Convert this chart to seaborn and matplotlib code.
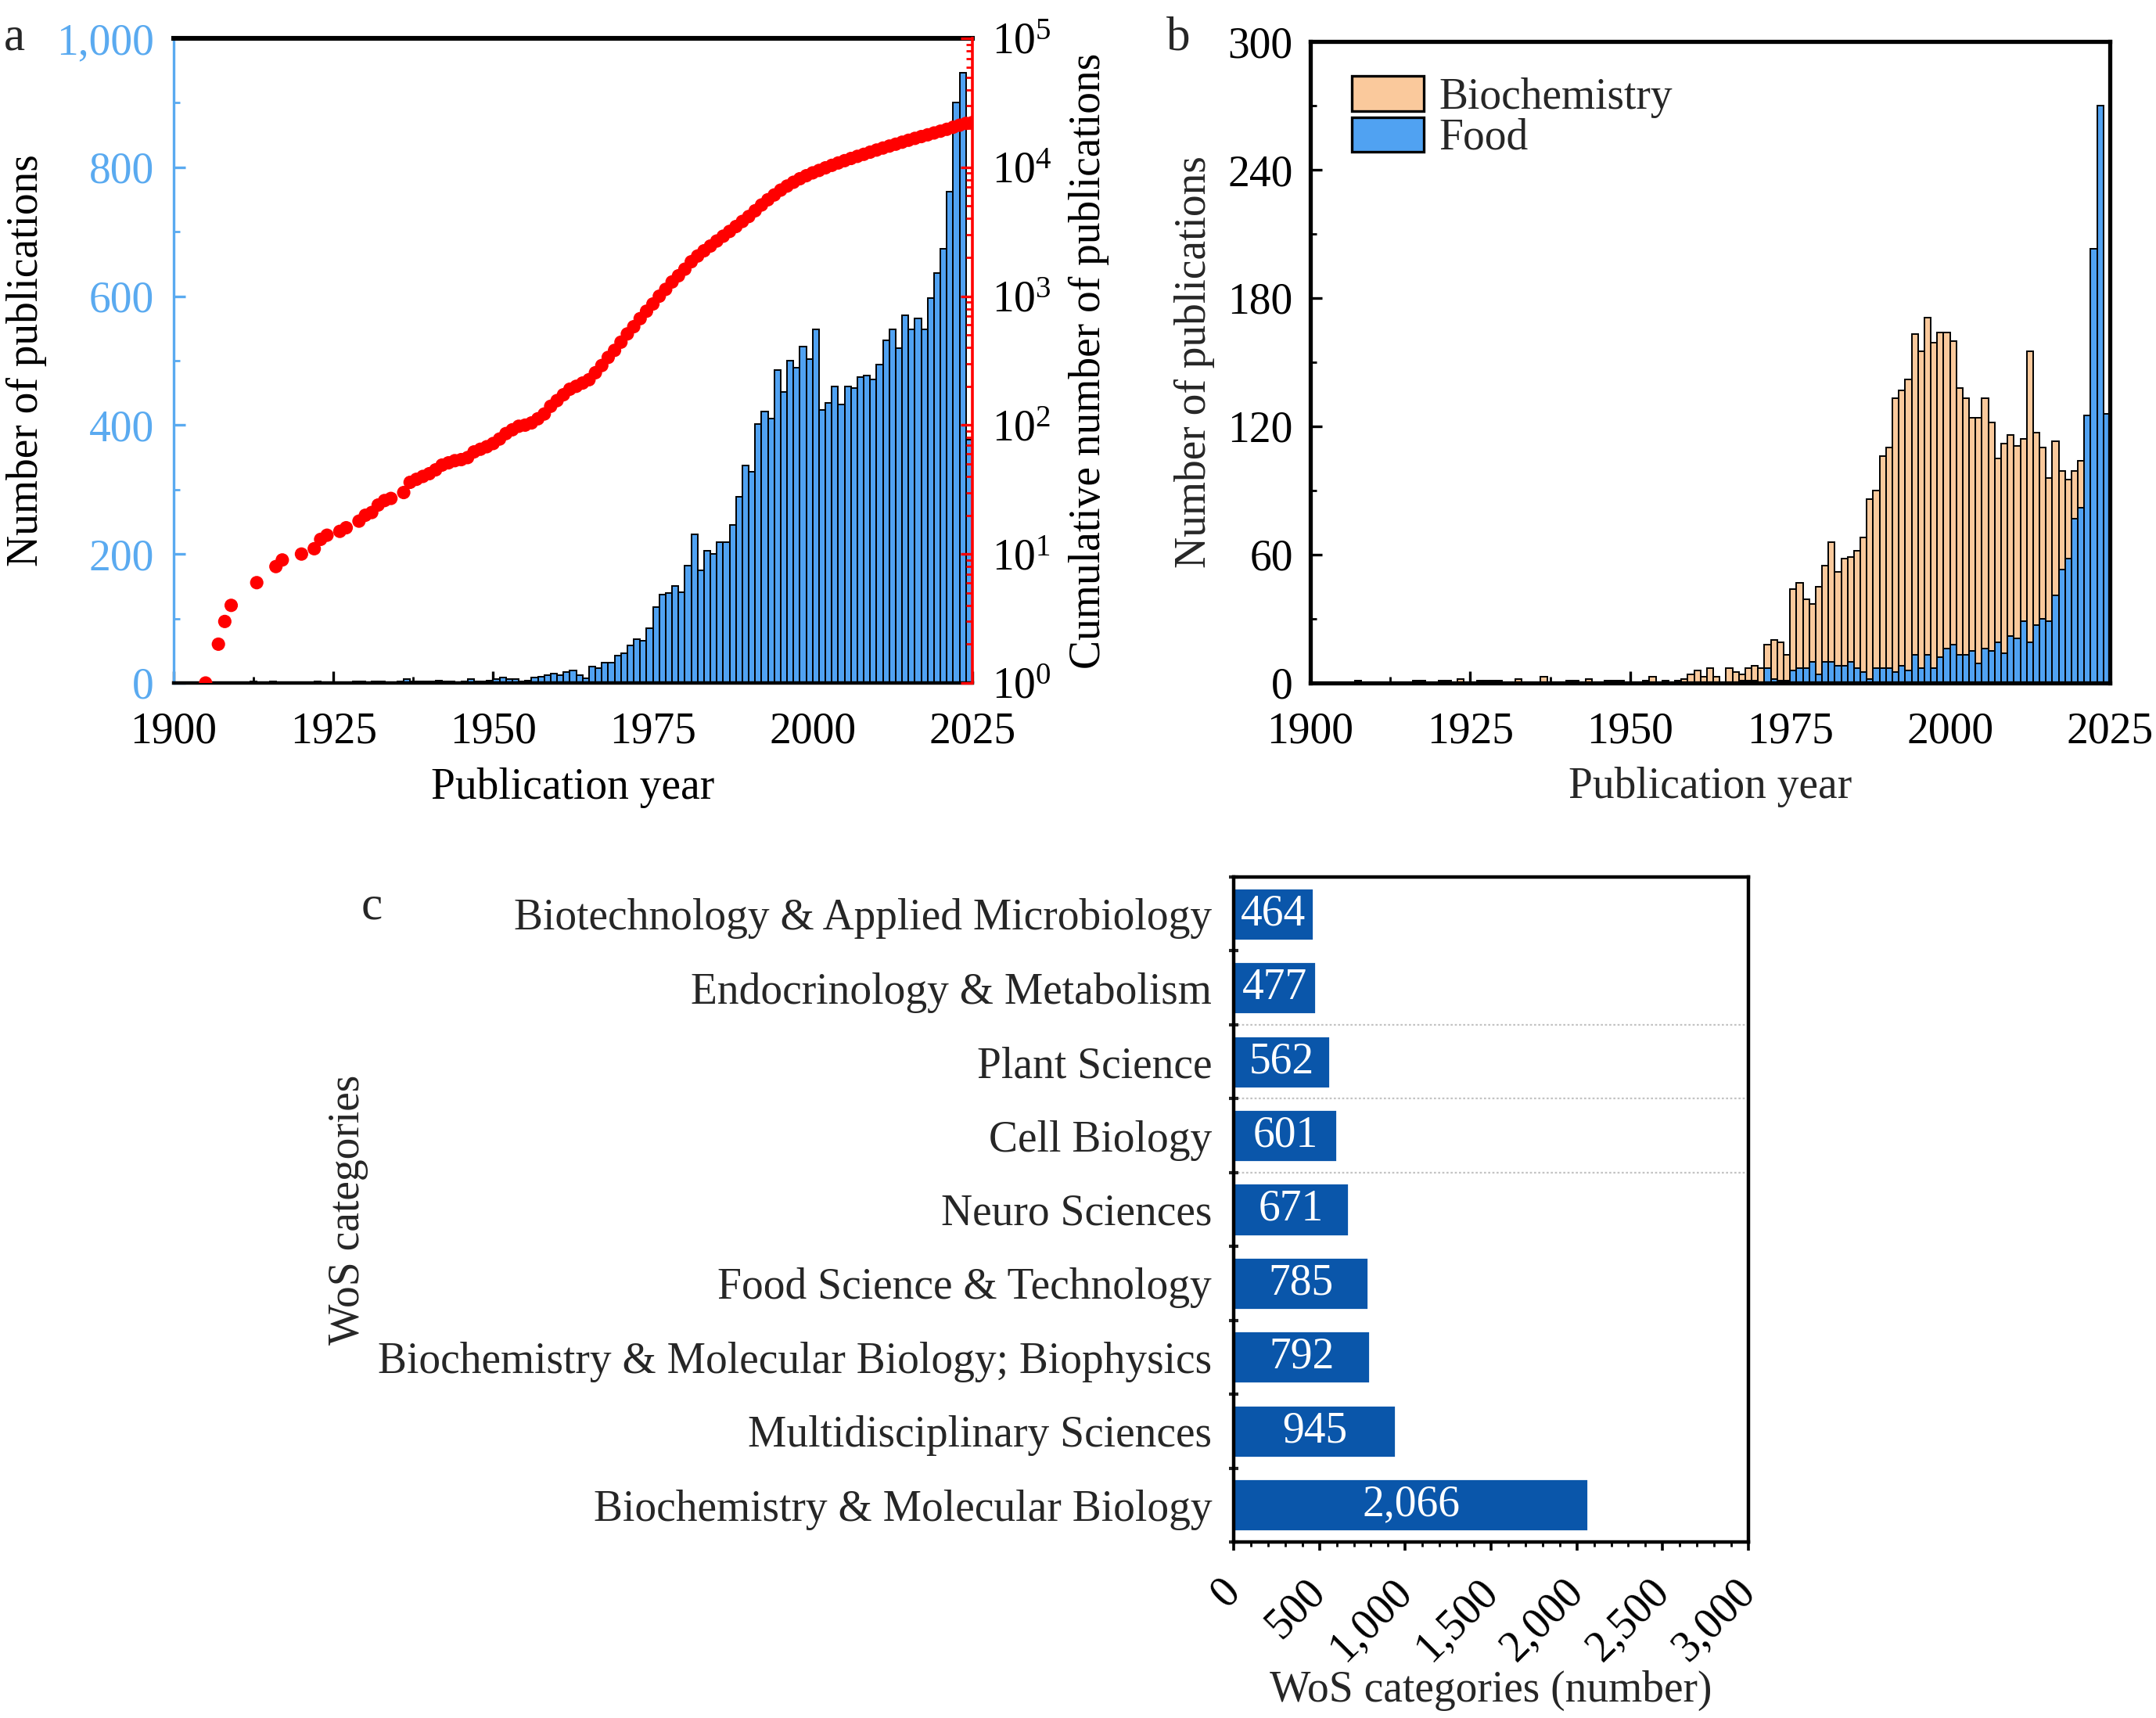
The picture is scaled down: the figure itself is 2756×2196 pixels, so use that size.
import numpy as np
import pandas as pd
import matplotlib
matplotlib.use("Agg")
import matplotlib.pyplot as plt
import seaborn as sns
from matplotlib.patches import Patch
from matplotlib.ticker import (MultipleLocator, FuncFormatter, LogLocator,
                               NullFormatter, FixedLocator)

# ---------------- data: panel a ----------------
years_a_early = [1905, 1907, 1908, 1909, 1913, 1916, 1917, 1920, 1922, 1923, 1924,
                 1926, 1927, 1929, 1930, 1931, 1932, 1933, 1934, 1936, 1937, 1938,
                 1939, 1940, 1941, 1942, 1943, 1944, 1945, 1946, 1947, 1948, 1949,
                 1950, 1951, 1952, 1953, 1954, 1955, 1956, 1957, 1958, 1959]
counts_a_early = [1, 1, 1, 1, 2, 2, 1, 1, 1, 2, 1,
                  1, 1, 2, 2, 1, 3, 2, 1, 3, 6, 2,
                  2, 2, 3, 4, 2, 2, 1, 2, 6, 3, 3,
                  4, 6, 8, 6, 6, 2, 4, 8, 10, 12]
years_a_recent = list(range(1960, 2026))
counts_a_recent = [14, 12, 17, 20, 12, 7, 25, 23, 32, 32,
                   42, 46, 58, 68, 66, 85, 118, 137, 139, 150,
                   141, 182, 230, 175, 205, 200, 219, 219, 245, 289,
                   337, 328, 402, 421, 410, 486, 452, 500, 489, 522,
                   503, 548, 424, 435, 460, 432, 460, 458, 475, 477,
                   471, 494, 531, 548, 520, 570, 549, 565, 549, 597,
                   636, 673, 762, 900, 947, 377]

cum_years = [1905, 1907, 1908, 1909, 1913, 1916, 1917, 1920, 1922, 1923, 1924,
             1926, 1927, 1929, 1930, 1931, 1932, 1933, 1934, 1936, 1937, 1938,
             1939, 1940, 1941, 1942, 1943, 1944, 1945, 1946, 1947, 1948, 1949,
             1950, 1951, 1952, 1953, 1954, 1955, 1956, 1957, 1958] + list(range(1959, 2026))
cum_values = [1, 2, 3, 4, 6, 8, 9, 10, 11, 13, 14,
              15, 16, 18, 20, 21, 24, 26, 27, 30, 36, 38,
              40, 42, 45, 49, 51, 53, 54, 56, 62, 65, 68,
              72, 78, 86, 92, 98, 100, 104, 112, 122,
              140, 155, 172, 190, 200, 212, 225, 255, 290, 335,
              380, 440, 510, 580, 670, 765, 870, 1000, 1130, 1290,
              1440, 1620, 1850, 2050, 2250, 2450, 2680, 2920, 3180, 3470,
              3800, 4150, 4600, 5100, 5600, 6100, 6650, 7150, 7650, 8150,
              8600, 9050, 9450, 9900, 10350, 10800, 11250, 11700, 12150, 12600,
              13100, 13600, 14100, 14600, 15100, 15650, 16200, 16750, 17300, 17850,
              18450, 19050, 19700, 20450, 21200, 21900, 22250]

# ---------------- data: panel b ----------------
years_b_early = [1908, 1917, 1918, 1921, 1922, 1924, 1927, 1928, 1929, 1930, 1933,
                 1937, 1941, 1942, 1944, 1947, 1948, 1949, 1953, 1954, 1956, 1958,
                 1959, 1960, 1961, 1962, 1963, 1964]
biochem_early = [1, 1, 1, 1, 1, 2, 1, 1, 1, 1, 2,
                 3, 1, 1, 2, 1, 1, 1, 1, 3, 1, 1,
                 2, 4, 6, 3, 7, 3]
years_b_recent = list(range(1966, 2026))
biochem_recent = [7, 5, 4, 7, 8, 7, 18, 20, 19, 13,
                  44, 47, 39, 37, 45, 55, 66, 52, 58, 59,
                  62, 68, 86, 90, 106, 110, 133, 137, 142, 163,
                  155, 171, 159, 164, 164, 160, 138, 133, 124, 124,
                  133, 122, 105, 112, 116, 111, 114, 155, 117, 110,
                  96, 113, 99, 95, 99, 104, 105, 100, 95, 45]
food_recent = [0, 0, 1, 1, 1, 0, 7, 2, 1, 1,
               6, 7, 7, 10, 4, 10, 10, 8, 8, 10,
               7, 5, 2, 7, 7, 7, 5, 8, 6, 13,
               7, 13, 7, 12, 16, 18, 13, 13, 15, 9,
               16, 15, 19, 14, 22, 21, 29, 19, 27, 30,
               29, 41, 53, 58, 77, 82, 125, 203, 270, 126]

# ---------------- data: panel c ----------------
wos_categories = ["Biotechnology & Applied Microbiology",
                  "Endocrinology & Metabolism",
                  "Plant Science",
                  "Cell Biology",
                  "Neuro Sciences",
                  "Food Science & Technology",
                  "Biochemistry & Molecular Biology; Biophysics",
                  "Multidisciplinary Sciences",
                  "Biochemistry & Molecular Biology"]
wos_counts = [464, 477, 562, 601, 671, 785, 792, 945, 2066]

# ---------------- style ----------------
sns.set_theme(style="white")
plt.rcParams["font.family"] = ["Liberation Serif", "DejaVu Serif"]
plt.rcParams["mathtext.fontset"] = "custom"
plt.rcParams["mathtext.rm"] = "Liberation Serif"
plt.rcParams["mathtext.it"] = "Liberation Serif:italic"
plt.rcParams["mathtext.bf"] = "Liberation Serif:bold"
plt.rcParams["font.size"] = 20
plt.rcParams["axes.labelsize"] = 20
plt.rcParams["xtick.labelsize"] = 20
plt.rcParams["ytick.labelsize"] = 20

BAR_BLUE = "#50A2F2"
AX_BLUE = "#5AAAF0"
PEACH = "#FAC99C"
RED = "#FF0000"
C_BLUE = "#0A56AA"
FS = 20

W, H, DPI = 2756, 2196, 200
fig = plt.figure(figsize=(W / DPI, H / DPI), dpi=DPI)


def rect(l, r, t, b):
    return [l / W, 1 - b / H, (r - l) / W, (b - t) / H]


thousands = FuncFormatter(lambda v, p: f"{int(round(v)):,}")

# ================= panel a =================
ax = fig.add_axes(rect(222, 1243, 49, 873))
df_a = pd.DataFrame({"pos": np.array(years_a_early + years_a_recent, dtype=float) - 0.5,
                     "n": np.array(counts_a_early + counts_a_recent, dtype=float)})
sns.histplot(data=df_a, x="pos", weights="n", binwidth=1, binrange=(1900, 2025),
             color=BAR_BLUE, edgecolor="black", linewidth=0.7, alpha=1, ax=ax)
ax.set_xlim(1900, 2025)
ax.set_ylim(0, 1000)
ax.xaxis.set_major_locator(MultipleLocator(25))
ax.xaxis.set_minor_locator(MultipleLocator(12.5))
ax.yaxis.set_major_locator(MultipleLocator(200))
ax.yaxis.set_minor_locator(MultipleLocator(100))
ax.yaxis.set_major_formatter(thousands)
ax.tick_params(axis="x", which="both", direction="in", colors="black",
               bottom=True, top=False, pad=13)
ax.tick_params(axis="x", which="major", length=5.5, width=1.2)
ax.tick_params(axis="x", which="minor", length=2.8, width=1.0)
ax.tick_params(axis="y", which="both", direction="in", colors=AX_BLUE,
               left=True, right=False, pad=9)
ax.tick_params(axis="y", which="major", length=5.5, width=1.2)
ax.tick_params(axis="y", which="minor", length=2.8, width=1.0)
for s in ["left", "right", "top", "bottom"]:
    ax.spines[s].set_visible(True)
ax.spines["left"].set_color(AX_BLUE)
ax.spines["left"].set_linewidth(1.2)
ax.spines["right"].set_visible(False)
ax.spines["top"].set_color("black")
ax.spines["top"].set_linewidth(2.2)
ax.spines["bottom"].set_color("black")
ax.spines["bottom"].set_linewidth(1.6)
ax.set_xlabel("Publication year", fontsize=FS, color="black")
ax.set_ylabel("Number of publications", fontsize=FS, color="black")
ax.xaxis.set_label_coords(0.5, -0.131)
ax.yaxis.set_label_coords(-0.159, 0.5)

ax2 = ax.twinx()
df_cum = pd.DataFrame({"year": cum_years, "cum": cum_values})
sns.scatterplot(data=df_cum, x="year", y="cum", ax=ax2, color=RED, s=38,
                edgecolor="none", linewidth=0, legend=False, zorder=3)
ax2.set_yscale("log")
ax2.set_ylim(1, 1e5)
ax2.set_xlim(1900, 2025)
ax2.yaxis.set_major_locator(LogLocator(base=10, numticks=10))
ax2.yaxis.set_minor_locator(LogLocator(base=10, subs=np.arange(2, 10), numticks=20))
ax2.yaxis.set_minor_formatter(NullFormatter())
ax2.tick_params(axis="y", which="both", direction="in", colors=RED,
                labelcolor="black", right=True, left=False, pad=9)
ax2.tick_params(axis="y", which="major", length=5.5, width=1.2)
ax2.tick_params(axis="y", which="minor", length=3.0, width=1.0)
for s in ["left", "top", "bottom"]:
    ax2.spines[s].set_visible(False)
ax2.spines["right"].set_visible(True)
ax2.spines["right"].set_color(RED)
ax2.spines["right"].set_linewidth(1.3)
ax2.set_xlabel("")
ax2.set_ylabel("Cumulative number of publications", fontsize=FS, color="black")
ax2.yaxis.set_label_coords(1.12, 0.5)

# ================= panel b =================
axb = fig.add_axes(rect(1675, 2697, 53, 873))
df_b = pd.DataFrame({
    "pos": np.array(years_b_early + years_b_recent, dtype=float) - 0.5,
    "biochem": np.array(biochem_early + biochem_recent, dtype=float),
    "food": np.array([0] * len(years_b_early) + food_recent, dtype=float)})
sns.histplot(data=df_b, x="pos", weights="biochem", binwidth=1, binrange=(1900, 2025),
             color=PEACH, edgecolor="black", linewidth=0.7, alpha=1, ax=axb)
sns.histplot(data=df_b, x="pos", weights="food", binwidth=1, binrange=(1900, 2025),
             color=BAR_BLUE, edgecolor="black", linewidth=0.7, alpha=1, ax=axb)
axb.set_xlim(1900, 2025)
axb.set_ylim(0, 300)
axb.xaxis.set_major_locator(MultipleLocator(25))
axb.xaxis.set_minor_locator(MultipleLocator(12.5))
axb.yaxis.set_major_locator(MultipleLocator(60))
axb.yaxis.set_minor_locator(MultipleLocator(30))
axb.tick_params(axis="both", which="both", direction="in", colors="black",
                bottom=True, left=True, top=False, right=False)
axb.tick_params(axis="x", pad=13)
axb.tick_params(axis="y", pad=8)
axb.tick_params(axis="both", which="major", length=5.5, width=1.2)
axb.tick_params(axis="both", which="minor", length=2.8, width=1.0)
for s in ["left", "right", "top", "bottom"]:
    axb.spines[s].set_visible(True)
    axb.spines[s].set_color("black")
    axb.spines[s].set_linewidth(1.9)
axb.set_xlabel("Publication year", fontsize=FS)
axb.set_ylabel("Number of publications", fontsize=FS)
axb.xaxis.set_label_coords(0.5, -0.131)
axb.yaxis.set_label_coords(-0.119, 0.5)
handles = [Patch(facecolor=PEACH, edgecolor="black", linewidth=1.2, label="Biochemistry"),
           Patch(facecolor=BAR_BLUE, edgecolor="black", linewidth=1.2, label="Food")]
axb.legend(handles=handles, loc="upper left", bbox_to_anchor=(0.052, 0.946),
           frameon=False, fontsize=FS, handlelength=1.65, handleheight=0.85,
           handletextpad=0.35, labelspacing=-0.02, borderaxespad=0, borderpad=0)

# ================= panel c =================
axc = fig.add_axes(rect(1577, 2235, 1121, 1971))
df_c = pd.DataFrame({"category": wos_categories, "count": wos_counts})
for yb in [1.5, 2.5, 3.5]:
    axc.axhline(yb, color="#c4c4c4", linestyle=(0, (1.2, 1.2)), linewidth=0.8, zorder=0)
sns.barplot(data=df_c, x="count", y="category", orient="h", color=C_BLUE,
            saturation=1, width=0.71, errorbar=None, ax=axc, zorder=2)
axc.set_xlim(0, 3000)
axc.set_ylim(len(wos_categories) - 0.5, -0.5)
axc.bar_label(axc.containers[0], labels=[f"{v:,}" for v in wos_counts],
              label_type="center", color="white", fontsize=FS)
axc.xaxis.set_major_locator(MultipleLocator(500))
axc.xaxis.set_minor_locator(MultipleLocator(100))
axc.xaxis.set_major_formatter(thousands)
axc.yaxis.set_minor_locator(FixedLocator(np.arange(-0.5, len(wos_categories), 1.0)))
axc.tick_params(axis="x", which="both", direction="out", bottom=True, top=False,
                colors="black")
axc.tick_params(axis="x", which="major", length=4.0, width=1.3, pad=16)
axc.tick_params(axis="x", which="minor", length=2.0, width=1.0)
axc.tick_params(axis="y", which="major", length=0, pad=10)
axc.tick_params(axis="y", which="minor", direction="inout", length=4.5, width=1.5,
                left=True, right=False)
for lbl in axc.get_xticklabels():
    lbl.set_rotation(45)
    lbl.set_ha("right")
    lbl.set_va("center")
    lbl.set_rotation_mode("anchor")
for s in ["left", "right", "top", "bottom"]:
    axc.spines[s].set_visible(True)
    axc.spines[s].set_color("black")
    axc.spines[s].set_linewidth(1.6)
axc.set_xlabel("WoS categories (number)", fontsize=FS)
axc.set_ylabel("WoS categories", fontsize=FS)
axc.xaxis.set_label_coords(0.5, -0.193)
axc.yaxis.set_label_coords(-1.681, 0.5)

# ================= panel letters =================
fig.text(18 / W, 1 - 49 / H, "a", ha="center", va="center", fontsize=22)
fig.text(1506 / W, 1 - 49 / H, "b", ha="center", va="center", fontsize=22)
fig.text(475 / W, 1 - 1160 / H, "c", ha="center", va="center", fontsize=22)

fig.savefig("out.png", dpi=DPI)
